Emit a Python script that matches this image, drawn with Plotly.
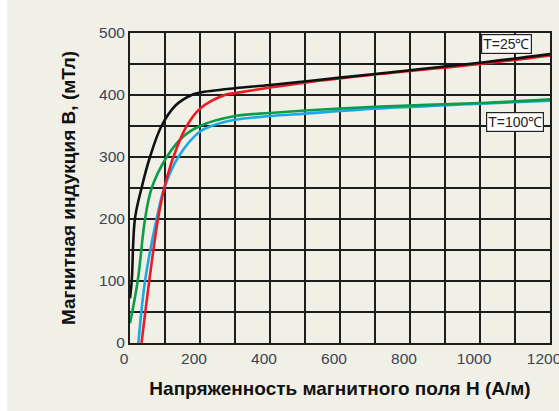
import plotly.graph_objects as go

# Curve data: H in A/m, B in mT
h_black = [0, 5, 14, 33, 57, 90, 130, 176, 200, 300, 400, 600, 800, 1000, 1200]
b_black = [72, 100, 200, 250, 300, 350, 383, 400, 404, 411, 416, 428, 440, 452, 466]

h_red = [33, 55, 80, 98, 124, 162, 200, 271, 300, 400, 500, 700, 1000, 1200]
b_red = [0, 100, 200, 250, 300, 350, 378, 400, 403, 412, 420, 433, 450, 464]

h_green = [0, 22, 43, 62, 105, 150, 200, 300, 400, 500, 700, 1000, 1200]
b_green = [32, 100, 200, 250, 300, 332, 350, 366, 371, 375, 381, 387, 393]

h_blue = [24, 43, 76, 98, 138, 200, 233, 300, 400, 500, 700, 1000, 1200]
b_blue = [0, 100, 200, 250, 300, 341, 350, 360, 366, 370, 378, 386, 391]

x_ticks = [0, 200, 400, 600, 800, 1000, 1200]
y_ticks = [0, 100, 200, 300, 400, 500]

BG = "#f1f0e7"
GRID = "#1e1e1e"

fig = go.Figure()

for h, b, c in [
    (h_blue, b_blue, "#1ba8e6"),
    (h_green, b_green, "#0c9c4a"),
    (h_red, b_red, "#ec1c24"),
    (h_black, b_black, "#111111"),
]:
    fig.add_trace(go.Scatter(
        x=h, y=b, mode="lines",
        line=dict(color=c, width=2.6, shape="spline", smoothing=1.0),
        showlegend=False, hoverinfo="x+y",
    ))

axis_font = dict(family="Liberation Sans, Arial", size=15.5, color="#3b4456")
title_font = dict(family="Liberation Sans, Arial", size=19, color="#111111")
label_font = dict(family="Liberation Sans, Arial", size=14, color="#222")

fig.update_layout(
    width=552, height=411,
    margin=dict(l=123, r=9, t=33, b=68),
    paper_bgcolor=BG,
    plot_bgcolor=BG,
    xaxis=dict(
        range=[0, 1200], tickvals=x_ticks, showgrid=True, automargin=False,
        gridcolor=GRID, gridwidth=1.6, ticklabeloverflow="allow",
        ticklabelshift=-6,
        minor=dict(dtick=100, showgrid=True, gridcolor=GRID, gridwidth=1.6),
        showline=True, linecolor=GRID, linewidth=2, mirror=True,
        zeroline=False, ticks="", tickfont=axis_font,
        title=dict(text="<b>Напряженность магнитного поля H (А/м)</b>",
                   font=title_font, standoff=16),
    ),
    yaxis=dict(
        range=[0, 500], tickvals=y_ticks, showgrid=True, automargin=False,
        gridcolor=GRID, gridwidth=1.6,
        minor=dict(dtick=50, showgrid=True, gridcolor=GRID, gridwidth=1.6),
        showline=True, linecolor=GRID, linewidth=2, mirror=True,
        zeroline=False, ticks="", tickfont=axis_font,
        title=dict(text="<b>Магнитная индукция B, (мТл)</b>",
                   font=title_font, standoff=18),
    ),
    annotations=[
        dict(x=1077, y=482, text="T=25℃", showarrow=False, font=label_font,
             bgcolor="white", bordercolor="#222", borderwidth=1.2, borderpad=1),
        dict(x=1100, y=356, text="T=100℃", showarrow=False, font=label_font,
             bgcolor="white", bordercolor="#222", borderwidth=1.2, borderpad=1),
    ],
)

# the page keeps a thin white strip at the left, like the reference
fig.write_html("out.html", config={"displayModeBar": False},
               post_script="document.body.style.margin='0 0 0 7px';"
                           "document.body.style.overflow='hidden';")
